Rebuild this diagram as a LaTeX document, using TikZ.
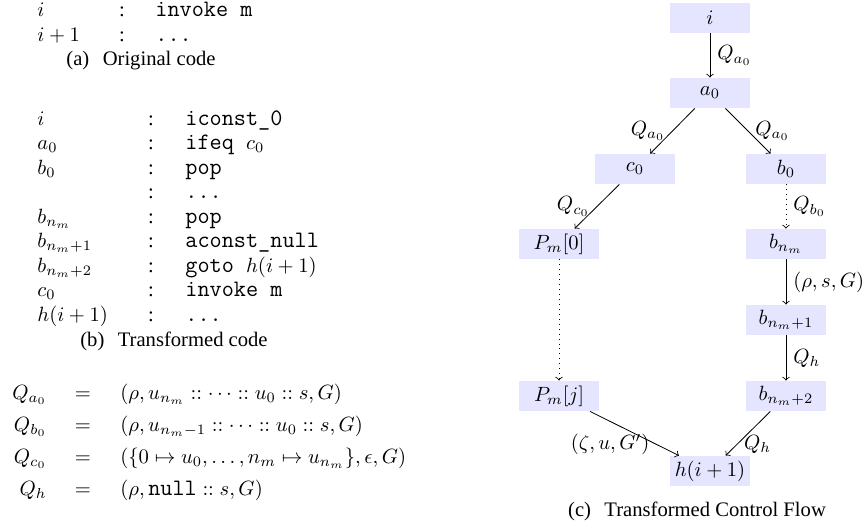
\documentclass[tikz,border=0pt]{standalone}
\usepackage{fontspec}
\setmainfont{Liberation Serif}
% typewriter text, set to Courier widths
\newcommand{\cd}[1]{{\fontsize{11.43}{13}\selectfont\ttfamily #1}}

\begin{document}
\begin{tikzpicture}[x=0.485pt,y=-0.485pt,
  txt/.style={inner sep=0pt},
  subcap/.style={inner sep=0pt,anchor=base},
  blk/.style={fill=blue!10,minimum width=38.8pt,minimum height=14.55pt,inner sep=0pt}]
  \useasboundingbox (0,0) rectangle (867,524);

  % (a) original code
  \node[txt,anchor=base west] (a1l) at (37,17) {$i$};
  \node[txt,anchor=base] (a1c) at (122,17) {:};
  \node[txt,anchor=base west] (a1i) at (155,17) {\cd{invoke m}};
  \node[txt,anchor=base west] (a2l) at (37,42) {$i+1$};
  \node[txt,anchor=base] (a2c) at (122,42) {:};
  \node[txt,anchor=base west] (a2i) at (155,42) {\cd{...}};
  \node[subcap] (capa) at (141,66) {(a)\hspace{4pt} Original code};

  % (b) transformed code
  \foreach \lab/\ins [count=\k from 0] in {{$i$}/{\cd{iconst\_0}}, {$a_0$}/{\cd{ifeq\ }$c_0$},
      {$b_0$}/{\cd{pop}}, {}/{\cd{...}}, {$b_{n_m}$}/{\cd{pop}}, {$b_{n_m+1}$}/{\cd{aconst\_null}},
      {$b_{n_m+2}$}/{\cd{goto\ }$h(i+1)$}, {$c_0$}/{\cd{invoke m}}, {$h(i+1)$}/{\cd{...}}}
  {
    \node[txt,anchor=base west] (bl\k) at (37,125+24.5*\k) {\lab};
    \node[txt,anchor=base] (bc\k) at (151,125+24.5*\k) {:};
    \node[txt,anchor=base west] (bi\k) at (185,125+24.5*\k) {\ins};
  }
  \node[subcap] (capb) at (174,346) {(b)\hspace{4pt} Transformed code};

  % abstract states
  \foreach \lhs/\rhs [count=\k from 0] in {
      {Q_{a_0}}/{(\rho, u_{n_m} :: \cdots :: u_0 :: s, G)},
      {Q_{b_0}}/{(\rho, u_{n_m-1} :: \cdots :: u_0 :: s, G)},
      {Q_{c_0}}/{(\{0 \mapsto u_0, \ldots, n_m \mapsto u_{n_m}\}, \epsilon, G)},
      {Q_h}/{(\rho, \mbox{\cd{null}} :: s, G)}}
  {
    \node[txt,anchor=base east] (ql\k) at (47,399+32*\k) {$\lhs$};
    \node[txt,anchor=base] (qe\k) at (83,399+32*\k) {$=$};
    \node[txt,anchor=base west] (qr\k) at (120,399+32*\k) {$\rhs$};
  }

  % (c) control flow
  \node[blk] (i) at (710,18) {$i$};
  \node[blk] (a0) at (710,93) {$a_0$};
  \node[blk] (c0) at (635,169) {$c_0$};
  \node[blk] (b0) at (786,169) {$b_0$};
  \node[blk] (Pm0) at (559,244) {$P_m[0]$};
  \node[blk] (bnm) at (786,244) {$b_{n_m}$};
  \node[blk] (bnm1) at (786,320) {$b_{n_m+1}$};
  \node[blk] (Pmj) at (559,396) {$P_m[j]$};
  \node[blk] (bnm2) at (786,396) {$b_{n_m+2}$};
  \node[blk] (h) at (710,471) {$h(i+1)$};

  \draw[->] (i) -- node[right] {$Q_{a_0}$} (a0);
  \draw[->] (a0) -- node[left] {$Q_{a_0}$} (c0);
  \draw[->] (a0) -- node[right] {$Q_{a_0}$} (b0);
  \draw[->] (c0) -- node[left] {$Q_{c_0}$} (Pm0);
  \draw[->,dotted] (b0) -- node[right] {$Q_{b_0}$} (bnm);
  \draw[->] (bnm) -- node[right] {$(\rho,s,G)$} (bnm1);
  \draw[->] (bnm1) -- node[right] {$Q_h$} (bnm2);
  \draw[->,dotted] (Pm0) -- (Pmj);
  \draw[->] (Pmj) -- node[pos=0.75,left] {$(\zeta,u,G')$} (h);
  \draw[->] (bnm2) -- node[pos=0.75,right] {$Q_h$} (h);

  \node[subcap] (capc) at (697,516) {(c)\hspace{4pt} Transformed Control Flow};
\end{tikzpicture}
\end{document}
